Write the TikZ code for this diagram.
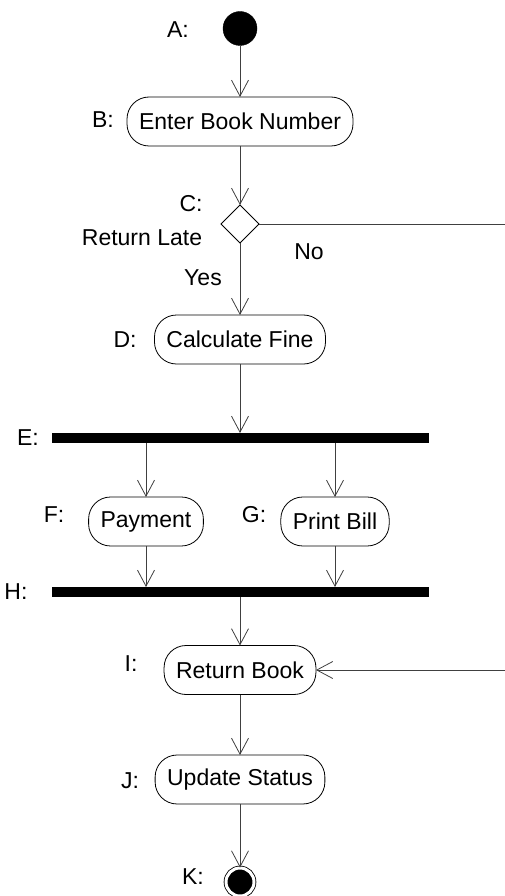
\documentclass[tikz,border=0pt]{standalone}
\usepackage{fontspec}
\setmainfont{Liberation Sans}
\usepackage{tikz}
\usetikzlibrary{arrows.meta,shapes.geometric,positioning}

\begin{document}
\begin{tikzpicture}
      [ x=1pt, y=1pt,
        font=\fontsize{23}{27}\selectfont,
        activity/.style={draw, rectangle, rounded corners=22pt, minimum height=49pt,
                         inner xsep=12pt, inner ysep=0pt, outer sep=0pt, line width=0.8pt},
        tag/.style={inner sep=0pt},
        syncbar/.style={fill=black, minimum width=377pt, minimum height=10pt,
                        inner sep=0pt, outer sep=0pt},
        flow/.style={draw=black!75, line width=0.8pt},
        arrowflow/.style={flow, -{Straight Barb[length=16pt,width=17pt]}}
      ]
      \useasboundingbox (0,0) rectangle (505,-896);

      % activity nodes
      \node[circle, draw, fill=black, minimum size=34pt, inner sep=0pt] (A) at (240,-28.5) {};
      \node[activity] (B) at (240,-121.5) {Enter Book Number};
      \node[diamond, draw, line width=0.8pt, minimum width=38pt, minimum height=38pt,
            inner sep=0pt, outer sep=0pt] (C) at (240,-224) {};
      \node[activity] (D) at (240,-339.5) {Calculate Fine};
      \node[syncbar] (E) at (240,-438) {};
      \node[activity] (F) at (146,-521.5) {Payment};
      \node[activity] (G) at (335,-521.5) {Print Bill};
      \node[syncbar] (H) at (240,-592) {};
      \node[activity] (I) at (240,-670) {Return Book};
      \node[activity] (J) at (240,-779.5) {Update Status};
      \node[circle, draw, fill=black, double=white, double distance=3pt, line width=0.8pt,
            minimum size=28pt, inner sep=0pt] (K) at (240,-882) {};

      % letters and guards
      \node[tag] (tagA) at (178,-30)  {A:};
      \node[tag] (tagB) at (103,-120) {B:};
      \node[tag] (tagC) at (191,-204) {C:};
      \node[tag] (late) at (142,-238) {Return Late};
      \node[tag] (no)   at (309,-252) {No};
      \node[tag] (yes)  at (203,-278) {Yes};
      \node[tag] (tagD) at (125,-340) {D:};
      \node[tag] (tagE) at (28,-438)  {E:};
      \node[tag] (tagF) at (54,-515)  {F:};
      \node[tag] (tagG) at (254,-515) {G:};
      \node[tag] (tagH) at (16,-592)  {H:};
      \node[tag] (tagI) at (131,-664) {I:};
      \node[tag] (tagJ) at (130,-781) {J:};
      \node[tag] (tagK) at (193,-877) {K:};

      \coordinate (outC) at (505,-224);
      \coordinate (inI)  at (505,-670);

      \draw[flow] (C) -- (outC);
      \path[every edge/.append style={arrowflow}]
                (A) edge (B)
                (B) edge (C)
                (C) edge (D)
                (D) edge (D |- E.north)
                (E.south -| F) edge (F)
                (E.south -| G) edge (G)
                (F) edge (F |- H.north)
                (G) edge (G |- H.north)
                (H.south) edge (I)
                (I) edge (J)
                (J) edge (K)
                (inI) edge (I);
\end{tikzpicture}
\end{document}
